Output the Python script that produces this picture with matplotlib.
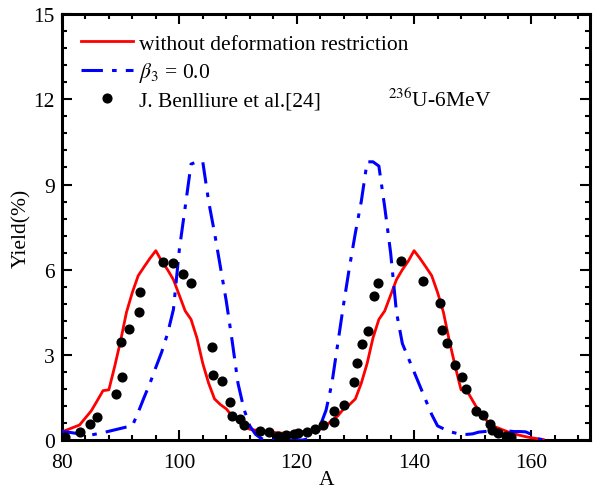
import matplotlib
matplotlib.use("Agg")
import matplotlib.pyplot as plt
from matplotlib.ticker import MultipleLocator

plt.rcParams['font.family'] = ['Liberation Serif', 'DejaVu Serif']
plt.rcParams['mathtext.fontset'] = 'stix'

# Theory: without deformation restriction (red)
A_red = list(range(80, 163))
Y_red = [0.29, 0.37, 0.45, 0.53, 0.78, 1.03, 1.38, 1.74, 1.77, 2.6,
         3.5, 4.5, 5.2, 5.79, 6.1, 6.4, 6.67, 6.3, 6.0, 5.65,
         5.1, 4.55, 4.25, 3.6, 2.7, 2.0, 1.45, 1.25, 1.1, 0.85,
         0.7, 0.5, 0.38, 0.35, 0.33, 0.3, 0.27, 0.25, 0.24, 0.25,
         0.27, 0.3, 0.33, 0.35, 0.38, 0.5, 0.7, 0.85, 1.1, 1.25,
         1.45, 2.0, 2.7, 3.6, 4.25, 4.55, 5.1, 5.65, 6.0, 6.3,
         6.67, 6.4, 6.1, 5.79, 5.2, 4.5, 3.5, 2.6, 1.77, 1.74,
         1.38, 1.03, 0.78, 0.53, 0.45, 0.37, 0.29, 0.22, 0.17, 0.12,
         0.08, 0.05, 0.02]

# Theory: beta3 = 0.0 (blue)
A_blue = list(range(80, 163))
Y_blue = [0.29, 0.28, 0.25, 0.22, 0.2, 0.18, 0.22, 0.26, 0.31, 0.36,
          0.41, 0.46, 0.5, 0.98, 1.5, 2.0, 2.56, 3.1, 3.75, 4.6,
          6.7, 8.2, 9.72, 9.8, 9.8, 8.4, 7.3, 6.1, 4.9, 3.5,
          2.0, 1.1, 0.5, 0.2, 0.05, 0.0, 0.0, 0.0, 0.0, 0.0,
          0.0, 0.0, 0.05, 0.2, 0.5, 1.05, 2.0, 3.4, 4.8, 6.1,
          7.3, 8.4, 9.8, 9.8, 9.65, 8.2, 6.6, 4.5, 3.4, 2.9,
          2.4, 1.9, 1.4, 0.9, 0.5, 0.4, 0.3, 0.25, 0.2, 0.2,
          0.22, 0.28, 0.3, 0.32, 0.33, 0.33, 0.32, 0.3, 0.3, 0.29,
          0.2, 0.05, 0.0]

# Experimental data: J. Benlliure et al.
A_exp = [80.6, 83.0, 84.75, 85.9, 89.3, 90.2, 90.0, 91.5, 93.05, 93.3,
         97.2, 98.9, 100.7, 102.0, 105.6, 105.8, 107.3, 108.6, 108.9, 110.4,
         111.0, 113.8, 115.25, 116.9, 118.2, 119.5, 120.3, 121.75, 123.2, 124.4,
         126.3, 126.3, 128.1, 129.8, 130.2, 131.2, 132.1, 133.2, 133.9, 137.85,
         141.5, 144.4, 144.75, 145.6, 146.9, 148.2, 148.8, 150.55, 151.7, 152.85,
         153.2, 154.3, 155.6, 156.5]
Y_exp = [0.12, 0.29, 0.56, 0.83, 1.64, 2.21, 3.44, 3.91, 4.52, 5.2,
         6.28, 6.23, 5.85, 5.53, 3.29, 2.29, 2.09, 1.35, 0.86, 0.74,
         0.53, 0.33, 0.29, 0.15, 0.18, 0.21, 0.25, 0.29, 0.39, 0.53,
         0.62, 1.03, 1.22, 2.03, 2.73, 3.38, 3.85, 5.06, 5.53, 6.31,
         5.61, 4.81, 3.88, 3.42, 2.64, 2.22, 1.8, 1.03, 0.87, 0.56,
         0.36, 0.25, 0.16, 0.12]

fig = plt.figure(figsize=(6.01, 4.89), dpi=100)
ax = fig.add_axes([0.103, 0.098, 0.879, 0.871])

ax.plot(A_red, Y_red, color='#ff0000', lw=2.0, label='without deformation restriction', zorder=3)
ax.plot(A_blue, Y_blue, color='#0000ff', lw=2.2, dashes=(7, 3, 1.5, 3),
        label=r'$\beta_3$ = 0.0', zorder=3)
ax.plot(A_exp, Y_exp, 'o', color='black', ms=6.3, ls='none',
        label='J. Benlliure et al.[24]', zorder=4)

ax.set_xlim(80, 170)
ax.set_ylim(0, 15)
ax.xaxis.set_major_locator(MultipleLocator(20))
ax.xaxis.set_minor_locator(MultipleLocator(4))
ax.yaxis.set_major_locator(MultipleLocator(3))
ax.yaxis.set_minor_locator(MultipleLocator(0.6))
ax.tick_params(which='both', direction='in', top=True, right=True, labelsize=15.5, width=1.5)
ax.tick_params(which='major', length=7)
ax.tick_params(which='minor', length=3.5)
ax.tick_params(axis='x', pad=9)
ax.tick_params(axis='y', pad=5)
for s in ax.spines.values():
    s.set_linewidth(2.2)

ax.set_xlabel('A', fontsize=15.5, labelpad=-1)
ax.set_ylabel('Yield(%)', fontsize=15.5, labelpad=2)

ax.legend(loc='upper left', frameon=False, fontsize=15.5, handlelength=2.4,
          handletextpad=0.3, labelspacing=0.3, borderaxespad=0.5,
          bbox_to_anchor=(0.0, 1.0))

ax.text(0.617, 0.80, r'$^{236}$U-6MeV', transform=ax.transAxes, fontsize=15.5,
        ha='left', va='center')

fig.savefig('out.png', dpi=100)
